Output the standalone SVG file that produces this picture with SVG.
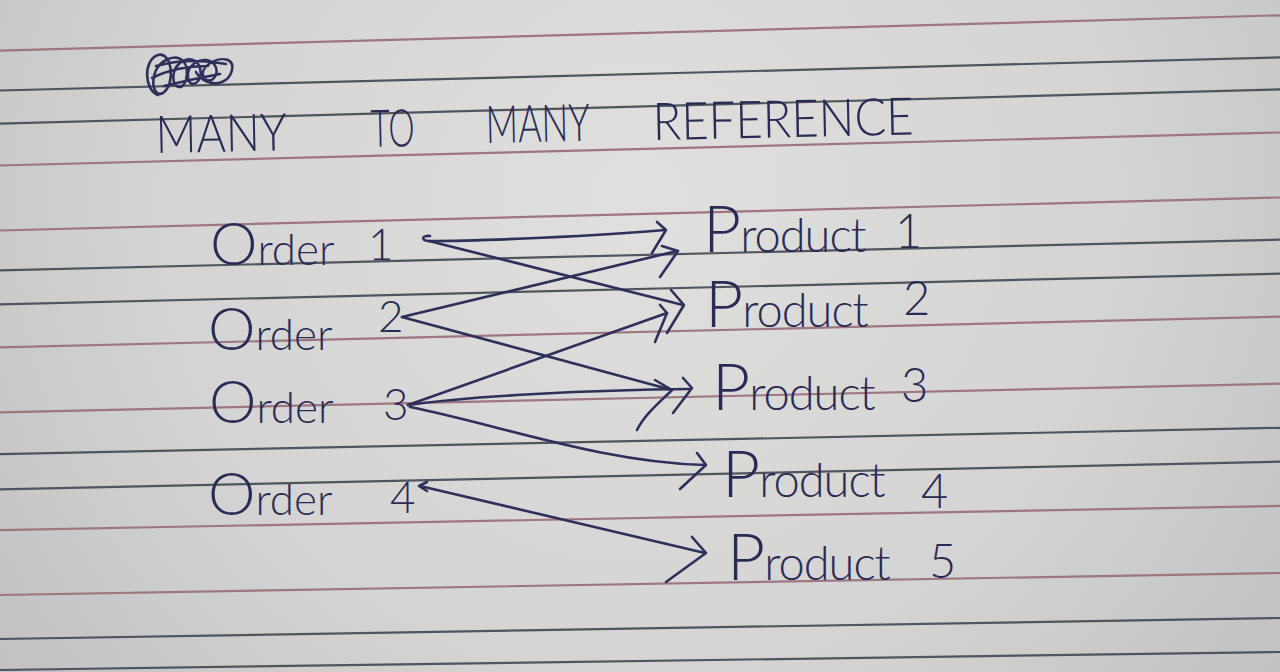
<svg xmlns="http://www.w3.org/2000/svg" width="1280" height="672" viewBox="0 0 1280 672">
  <defs>
    <radialGradient id="paper" gradientUnits="userSpaceOnUse" cx="640" cy="200" r="950">
      <stop offset="0" stop-color="#e0e0de"/>
      <stop offset="0.5" stop-color="#d3d4d3"/>
      <stop offset="0.85" stop-color="#c0c1c3"/>
      <stop offset="1" stop-color="#b3b5b7"/>
    </radialGradient>
    <style>
      .red { stroke: #9e7580; stroke-width: 2.2; fill: none; }
      .dark { stroke: #50555b; stroke-width: 2.2; fill: none; }
      .hw { font-family: Lato, "Open Sans", "DejaVu Sans", sans-serif; font-weight: 300; fill: #2a2b55; }
      .title { font-size: 52px; }
      .lbl { font-size: 44px; }
      .plbl { font-size: 47px; }
      .cap { font-size: 60px; }
      .pcap { font-size: 66px; }
      .ink { stroke: #2e2f5a; stroke-width: 2.6; fill: none; stroke-linecap: round; stroke-linejoin: round; }
    </style>
  </defs>

  <!-- sheet of ruled paper -->
  <rect x="0" y="0" width="1280" height="672" fill="url(#paper)"/>
  <g id="ruling">
    <line class="red" x1="0" y1="50.7" x2="1280" y2="15.3"/>
    <line class="dark" x1="0" y1="90.5" x2="1280" y2="57.4"/>
    <line class="dark" x1="0" y1="123.6" x2="1280" y2="89.4"/>
    <line class="red" x1="0" y1="165.5" x2="1280" y2="132.5"/>
    <line class="red" x1="0" y1="230.5" x2="1280" y2="197.5"/>
    <line class="dark" x1="0" y1="270.4" x2="1280" y2="239.6"/>
    <line class="dark" x1="0" y1="304.4" x2="1280" y2="273.6"/>
    <line class="red" x1="0" y1="347.4" x2="1280" y2="316.6"/>
    <line class="red" x1="0" y1="412.3" x2="1280" y2="383.7"/>
    <line class="dark" x1="0" y1="454.2" x2="1280" y2="427.8"/>
    <line class="dark" x1="0" y1="489.3" x2="1280" y2="461.7"/>
    <line class="red" x1="0" y1="530.1" x2="1280" y2="505.9"/>
    <line class="red" x1="0" y1="595" x2="1280" y2="573"/>
    <line class="dark" x1="0" y1="639" x2="1280" y2="618"/>
    <line class="dark" x1="0" y1="670" x2="1280" y2="652"/>
  </g>

  <!-- crossed-out word above the heading -->
  <path id="scribble" class="ink" stroke-width="2" d="M158,95 C144,90 143,60 158,55 C172,51 176,84 163,93 C152,99 147,70 166,60 C180,53 190,62 186,80 C183,92 170,88 174,72 C178,58 196,54 200,68 C204,82 190,90 188,78 C186,62 206,55 214,64 C222,74 210,86 204,78 C198,68 216,56 228,60 C236,64 232,78 222,82 C212,86 200,80 196,72 M152,78 C168,70 186,66 208,66 M156,66 C172,62 192,58 226,64 M164,86 C180,82 198,78 220,74"/>

  <!-- heading -->
  <g id="heading" class="hw title">
    <text x="156" y="153" transform="rotate(-1.2 156 153)" textLength="131" lengthAdjust="spacingAndGlyphs">MANY</text>
    <text x="371" y="147" transform="rotate(-1.2 371 147)" textLength="44" lengthAdjust="spacingAndGlyphs">TO</text>
    <text x="486" y="143" transform="rotate(-1.2 486 143)" textLength="104" lengthAdjust="spacingAndGlyphs">MANY</text>
    <text x="653" y="140" transform="rotate(-1.2 653 140)" textLength="261" lengthAdjust="spacingAndGlyphs">REFERENCE</text>
  </g>

  <!-- orders -->
  <g id="order1" class="hw lbl"><text x="210" y="265"><tspan class="cap">O</tspan>rder <tspan x="368" y="260">1</tspan></text></g>
  <g id="order2" class="hw lbl"><text x="208" y="350"><tspan class="cap">O</tspan>rder <tspan x="378" y="332">2</tspan></text></g>
  <g id="order3" class="hw lbl"><text x="209" y="423"><tspan class="cap">O</tspan>rder <tspan x="383" y="420">3</tspan></text></g>
  <g id="order4" class="hw lbl"><text x="208" y="515"><tspan class="cap">O</tspan>rder <tspan x="390" y="513">4</tspan></text></g>

  <!-- products -->
  <g id="product1" class="hw plbl"><text x="703" y="252" letter-spacing="-1"><tspan class="pcap">P</tspan>roduct <tspan x="895" y="248">1</tspan></text></g>
  <g id="product2" class="hw plbl"><text x="705" y="327" letter-spacing="-1"><tspan class="pcap">P</tspan>roduct <tspan x="903" y="315">2</tspan></text></g>
  <g id="product3" class="hw plbl"><text x="712" y="410" letter-spacing="-1"><tspan class="pcap">P</tspan>roduct <tspan x="901" y="402">3</tspan></text></g>
  <g id="product4" class="hw plbl"><text x="722" y="497" letter-spacing="-1"><tspan class="pcap">P</tspan>roduct <tspan x="921" y="508">4</tspan></text></g>
  <g id="product5" class="hw plbl"><text x="727" y="580" letter-spacing="-1"><tspan class="pcap">P</tspan>roduct <tspan x="929" y="578">5</tspan></text></g>

  <!-- connectors: each order points to the products it contains -->
  <g id="connectors" class="ink">
    <!-- Order 1 -> Product 1 -->
    <path d="M430,236 C421,235 421,241 429,241 C480,241 600,236 665,230"/>
    <path d="M657,222 L666,230 L652,253"/>
    <!-- Order 1 -> Product 2 -->
    <path d="M429,241 L683,305"/>
    <path d="M671,290 L684,305 L667,333"/>
    <!-- Order 2 -> Product 1 -->
    <path d="M402,317 L677,251"/>
    <path d="M662,246 L678,251 L660,277"/>
    <!-- Order 2 -> Product 3 -->
    <path d="M402,317 L672,390"/>
    <path d="M655,380 L672,390 C660,402 645,414 637,430"/>
    <!-- Order 3 -> Product 2 -->
    <path d="M408,405 L667,313"/>
    <path d="M660,305 L667,313 L655,342"/>
    <!-- Order 3 -> Product 3 -->
    <path d="M408,405 C470,396 590,390 691,389"/>
    <path d="M683,378 L692,388 L673,413"/>
    <!-- Order 3 -> Product 4 -->
    <path d="M410,407 C500,425 600,462 705,465"/>
    <path d="M697,453 L706,465 L680,489"/>
    <!-- Order 4 -> Product 5 -->
    <path d="M420,486 L705,553"/>
    <path d="M427,482 L419,486 L427,491"/>
    <path d="M692,537 L706,553 L666,582"/>
  </g>
</svg>
